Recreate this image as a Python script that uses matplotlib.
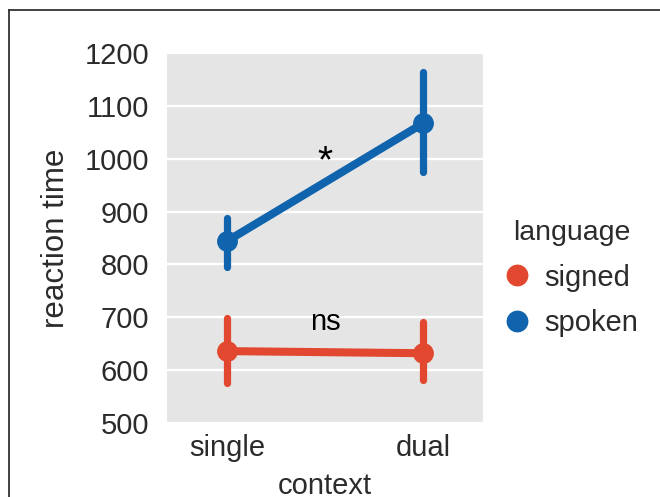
import matplotlib
matplotlib.use('Agg')
import matplotlib.pyplot as plt
from matplotlib.lines import Line2D

plt.rcParams['font.family'] = ['Liberation Sans', 'DejaVu Sans']

# data
contexts = ['single', 'dual']
signed_rt = [636, 632]
signed_lo = [576, 581]
signed_hi = [699, 691]
spoken_rt = [844, 1067]
spoken_lo = [795, 975]
spoken_hi = [888, 1164]
y_ticks = [500, 600, 700, 800, 900, 1000, 1100, 1200]

red = '#e2482f'
blue = '#0f64ad'
text_col = '#2b2b2b'

fig = plt.figure(figsize=(6.6, 4.97), dpi=100)
ax = fig.add_axes([167 / 660, 1 - 423 / 497, 316 / 660, 370 / 497])
ax.set_facecolor('#e5e5e5')

xpos = list(range(len(contexts)))

for rt, lo, hi, col, name in [(signed_rt, signed_lo, signed_hi, red, 'signed'),
                              (spoken_rt, spoken_lo, spoken_hi, blue, 'spoken')]:
    ax.vlines(xpos, lo, hi, colors=col, lw=5.2, capstyle='round', zorder=3)
    ax.plot(xpos, rt, color=col, lw=5.8, solid_capstyle='round', zorder=3)
    ax.plot(xpos, rt, 'o', color=col, ms=14, zorder=4, label=name)

# significance labels
ax.text(0.5, 975, '*', ha='center', va='baseline', fontsize=28, color='black')
ax.text(0.5, 676, 'ns', ha='center', va='baseline', fontsize=21, color='black')

ax.set_xlim(-0.305, 1.305)
ax.set_ylim(500, 1200)
ax.set_xticks(xpos)
ax.set_xticklabels(contexts)
ax.set_yticks(y_ticks)
ax.grid(axis='y', color='white', lw=1.7)
ax.set_axisbelow(True)
for s in ax.spines.values():
    s.set_visible(False)
ax.tick_params(axis='both', length=0, labelsize=21, labelcolor=text_col)
ax.tick_params(axis='y', pad=13)
ax.tick_params(axis='x', pad=8)

ax.set_ylabel('reaction time', fontsize=22.5, color=text_col)
ax.yaxis.set_label_coords(-0.305, 0.5)
ax.set_xlabel('context', fontsize=21, color=text_col)
ax.xaxis.set_label_coords(0.5, -0.133)

leg = ax.legend(title='language', loc='upper left',
                bbox_to_anchor=(505 / 660, 1 - 220 / 497),
                bbox_transform=fig.transFigure, frameon=False,
                fontsize=21, title_fontsize=20.5, handlelength=0.8,
                handletextpad=0.55, labelspacing=0.6, borderpad=0,
                borderaxespad=0, markerscale=1.05)
for t in leg.get_texts():
    t.set_color(text_col)
leg.get_title().set_color(text_col)

# outer frame (only left and top edges are visible in the crop)
fig.add_artist(Line2D([9 / 660, 9 / 660], [0, 1 - 10 / 497],
                      transform=fig.transFigure, color='#333333', lw=1.3))
fig.add_artist(Line2D([9 / 660, 1], [1 - 10 / 497, 1 - 10 / 497],
                      transform=fig.transFigure, color='#333333', lw=1.3))

fig.savefig('out.png', dpi=100)
